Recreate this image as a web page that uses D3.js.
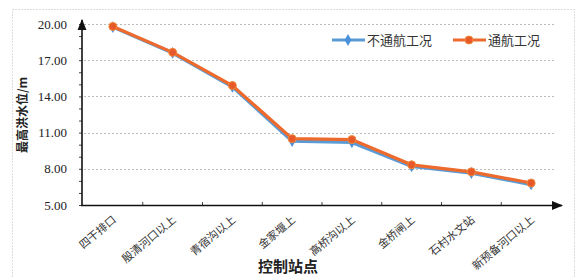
<!DOCTYPE html>
<html>
<head>
<meta charset="utf-8">
<script src="https://cdn.jsdelivr.net/npm/d3@7"></script>
<style>
  body { margin: 0; background: #fff; }
  .num { font-family: "Liberation Serif", "DejaVu Serif", serif; }
</style>
</head>
<body>
<svg width="577" height="277"></svg>
<script>
var stations = ["四干排口", "殷清河口以上", "青宿沟以上", "金家堰上", "高桥沟以上", "金桥闸上", "石村水文站", "新预备河口以上"];
var noNav = [19.75, 17.6, 14.8, 10.3, 10.2, 8.2, 7.65, 6.7];
var nav = [19.8, 17.65, 14.9, 10.5, 10.42, 8.33, 7.75, 6.82];
var yTicks = [5, 8, 11, 14, 17, 20];
var seriesNames = ["不通航工况", "通航工况"];

var svg = d3.select("svg");
var cjk = '"Noto Sans CJK SC", sans-serif';

var x = d3.scaleBand().domain(stations).range([83, 561]);
var y = d3.scaleLinear().domain([5, 20]).range([205, 24]);

// outer dotted frame
svg.append("rect").attr("x", 12.5).attr("y", 9.5).attr("width", 562).attr("height", 290)
  .attr("fill", "none").attr("stroke", "#bbb").attr("stroke-dasharray", "1,2");

// grid
svg.append("g").selectAll("line").data(yTicks.slice(1)).enter().append("line")
  .attr("x1", 84).attr("x2", 556)
  .attr("y1", function (d) { return Math.round(y(d)) + 0.5; })
  .attr("y2", function (d) { return Math.round(y(d)) + 0.5; })
  .attr("stroke", "#bbb").attr("stroke-dasharray", "2,2");

// y axis
var yAxis = svg.append("g").attr("transform", "translate(82,0)")
  .call(d3.axisLeft(y).tickValues(d3.range(5, 21)).tickSize(3).tickFormat(function (d) {
    return yTicks.indexOf(d) >= 0 ? d.toFixed(2) : "";
  }));
yAxis.attr("font-family", null);
yAxis.select(".domain").remove();
yAxis.selectAll(".tick line").attr("stroke", "#444");
yAxis.selectAll("text").attr("x", -15).attr("font-size", 13).attr("fill", "#222")
  .attr("class", "num");

// x axis
var xAxis = svg.append("g").attr("transform", "translate(0,205)")
  .call(d3.axisBottom(x).tickSize(0).tickPadding(0));
xAxis.select(".domain").remove();
xAxis.selectAll(".tick text")
  .attr("text-anchor", "end")
  .attr("font-size", 11)
  .attr("fill", "#333")
  .style("font-family", cjk)
  .attr("dy", 0)
  .attr("transform", "translate(4,16) rotate(-40)");
svg.append("g").selectAll("line").data(stations.slice(1)).enter().append("line")
  .attr("x1", function (d) { return x(d); }).attr("x2", function (d) { return x(d); })
  .attr("y1", 202).attr("y2", 205).attr("stroke", "#444");

// axis lines with arrows
svg.append("defs").append("marker").attr("id", "arr")
  .attr("viewBox", "0 0 10 10").attr("refX", 9).attr("refY", 5)
  .attr("markerWidth", 7).attr("markerHeight", 7).attr("orient", "auto")
  .append("path").attr("d", "M0,1L10,5L0,9z").attr("fill", "#111");
svg.append("line").attr("x1", 82).attr("x2", 82).attr("y1", 206).attr("y2", 20)
  .attr("stroke", "#111").attr("stroke-width", 1.6).attr("marker-end", "url(#arr)");
svg.append("line").attr("x1", 81).attr("x2", 562).attr("y1", 205.5).attr("y2", 205.5)
  .attr("stroke", "#111").attr("stroke-width", 1.6).attr("marker-end", "url(#arr)");

// lines
var line = d3.line()
  .x(function (d, i) { return x(stations[i]) + x.bandwidth() / 2; })
  .y(function (d) { return y(d); });

svg.append("path").datum(noNav).attr("d", line).attr("fill", "none")
  .attr("stroke", "#5b9bd5").attr("stroke-width", 3.5);
svg.append("g").selectAll("path").data(noNav).enter().append("path")
  .attr("d", d3.symbol().type(d3.symbolDiamond).size(40))
  .attr("transform", function (d, i) { return "translate(" + (x(stations[i]) + x.bandwidth() / 2) + "," + y(d) + ")"; })
  .attr("fill", "#4a90d9");

svg.append("path").datum(nav).attr("d", line).attr("fill", "none")
  .attr("stroke", "#ee6a2c").attr("stroke-width", 3.2);
svg.append("g").selectAll("circle").data(nav).enter().append("circle")
  .attr("cx", function (d, i) { return x(stations[i]) + x.bandwidth() / 2; })
  .attr("cy", function (d) { return y(d); })
  .attr("r", 4).attr("fill", "#e8592a").attr("stroke", "#f08a3c");

// legend
var leg = svg.append("g");
[[332, "#5b9bd5", seriesNames[0]], [453, "#ee6a2c", seriesNames[1]]].forEach(function (l, i) {
  leg.append("line").attr("x1", l[0]).attr("x2", l[0] + 33).attr("y1", 40).attr("y2", 40)
    .attr("stroke", l[1]).attr("stroke-width", 3);
  if (i === 0) {
    leg.append("path").attr("d", d3.symbol().type(d3.symbolDiamond).size(40))
      .attr("transform", "translate(" + (l[0] + 16) + ",40)").attr("fill", "#4a90d9");
  } else {
    leg.append("circle").attr("cx", l[0] + 16).attr("cy", 40).attr("r", 4)
      .attr("fill", "#e8592a").attr("stroke", "#f08a3c");
  }
  leg.append("text").attr("x", l[0] + 35).attr("y", 45).attr("font-size", 13)
    .attr("fill", "#333").style("font-family", cjk).text(l[2]);
});

// axis titles
svg.append("text").attr("transform", "translate(27,115) rotate(-90)")
  .attr("text-anchor", "middle").attr("font-size", 12).attr("font-weight", "bold")
  .attr("fill", "#222").style("font-family", cjk).text("最高洪水位/m");
svg.append("text").attr("x", 288).attr("y", 272)
  .attr("text-anchor", "middle").attr("font-size", 15).attr("font-weight", "bold")
  .attr("fill", "#222").style("font-family", cjk).text("控制站点");
</script>
</body>
</html>
